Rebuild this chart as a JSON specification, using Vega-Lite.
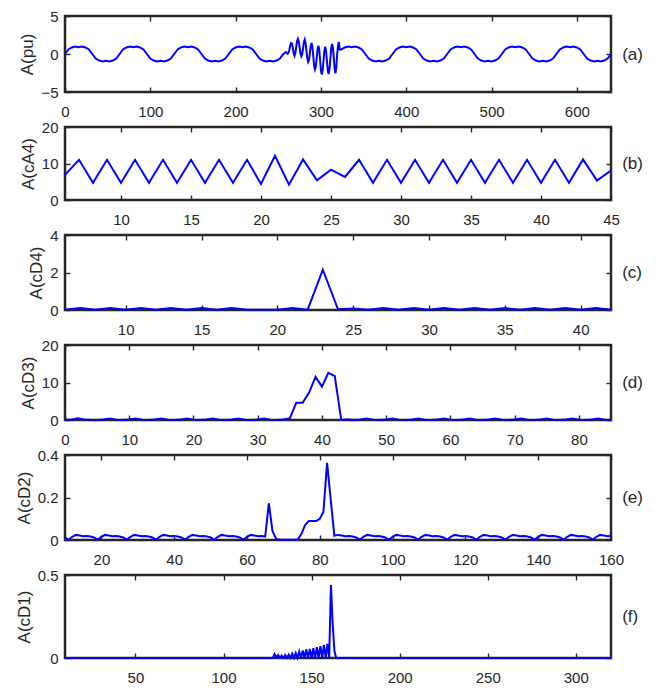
{
"$schema": "https://vega.github.io/schema/vega-lite/v6.json",
"padding": {"left": 13, "top": 7, "right": 5, "bottom": 2},
"background": "white",
"bounds": "flush",
"spacing": 35,
"config": {
  "view": {"stroke": "#262626", "strokeWidth": 2.5},
  "axis": {"domain": false, "grid": false, "tickSize": -5, "tickColor": "#262626", "tickWidth": 1.4,
    "labelFont": "Liberation Sans, Arial, sans-serif", "labelFontSize": 15, "labelColor": "#262626",
    "titleFont": "Liberation Sans, Arial, sans-serif", "titleFontSize": 17, "titleFontWeight": "normal", "titleColor": "#262626",
    "labelFlush": false, "labelOverlap": false, "titlePadding": 4},
  "axisBottom": {"labelPadding": 17},
  "axisLeft": {"labelPadding": 12},
  "line": {"color": "#0000ff", "strokeWidth": 2}
},
"datasets": {
"a": [
{"x":0,"y":0},{"x":4,"y":0.597},{"x":8,"y":0.863},{"x":12,"y":0.997},{"x":16,"y":0.88},{"x":20,"y":0.997},{"x":24,"y":0.863},{"x":28,"y":0.597},{"x":32,"y":0},{"x":36,"y":-0.597},{"x":40,"y":-0.863},{"x":44,"y":-0.997},{"x":48,"y":-0.88},{"x":52,"y":-0.997},{"x":56,"y":-0.863},{"x":60,"y":-0.597},
{"x":64,"y":0},{"x":68,"y":0.597},{"x":72,"y":0.863},{"x":76,"y":0.997},{"x":80,"y":0.88},{"x":84,"y":0.997},{"x":88,"y":0.863},{"x":92,"y":0.597},{"x":96,"y":0},{"x":100,"y":-0.597},{"x":104,"y":-0.863},{"x":108,"y":-0.997},{"x":112,"y":-0.88},{"x":116,"y":-0.997},{"x":120,"y":-0.863},{"x":124,"y":-0.597},
{"x":128,"y":0},{"x":132,"y":0.597},{"x":136,"y":0.863},{"x":140,"y":0.997},{"x":144,"y":0.88},{"x":148,"y":0.997},{"x":152,"y":0.863},{"x":156,"y":0.597},{"x":160,"y":0},{"x":164,"y":-0.597},{"x":168,"y":-0.863},{"x":172,"y":-0.997},{"x":176,"y":-0.88},{"x":180,"y":-0.997},{"x":184,"y":-0.863},{"x":188,"y":-0.597},
{"x":192,"y":0},{"x":196,"y":0.597},{"x":200,"y":0.863},{"x":204,"y":0.997},{"x":208,"y":0.88},{"x":212,"y":0.997},{"x":216,"y":0.863},{"x":220,"y":0.597},{"x":224,"y":0},{"x":228,"y":-0.597},{"x":232,"y":-0.863},{"x":236,"y":-0.997},{"x":240,"y":-0.88},{"x":244,"y":-0.997},{"x":248,"y":-0.863},{"x":252,"y":-0.597},
{"x":256,"y":0},{"x":257,"y":0.09},{"x":258,"y":0.18},{"x":259,"y":0.26},{"x":260,"y":0.13},{"x":261,"y":0.02},{"x":262,"y":0.15},{"x":263,"y":0.57},{"x":264,"y":1.13},{"x":265,"y":1.45},{"x":266,"y":1.38},{"x":267,"y":0.79},{"x":268,"y":0.13},{"x":269,"y":-0.24},{"x":270,"y":0.11},{"x":271,"y":0.9},{"x":272,"y":1.68},{"x":273,"y":2.0},{"x":274,"y":1.66},{"x":275,"y":0.86},{"x":276,"y":0.05},{"x":277,"y":-0.31},{"x":278,"y":-0.03},{"x":279,"y":0.7},{"x":280,"y":1.56},{"x":281,"y":1.92},{"x":282,"y":1.45},{"x":283,"y":0.42},{"x":284,"y":-0.57},{"x":285,"y":-1.04},{"x":286,"y":-0.78},{"x":287,"y":0.09},{"x":288,"y":1.06},{"x":289,"y":1.46},{"x":290,"y":0.96},{"x":291,"y":-0.26},{"x":292,"y":-1.48},{"x":293,"y":-2.02},{"x":294,"y":-1.67},{"x":295,"y":-0.57},{"x":296,"y":0.6},{"x":297,"y":1.1},{"x":298,"y":0.56},{"x":299,"y":-0.79},{"x":300,"y":-2.14},{"x":301,"y":-2.71},{"x":302,"y":-2.19},{"x":303,"y":-0.9},{"x":304,"y":0.41},{"x":305,"y":0.95},{"x":306,"y":0.43},{"x":307,"y":-0.86},{"x":308,"y":-2.14},{"x":309,"y":-2.64},{"x":310,"y":-2.06},{"x":311,"y":-0.7},{"x":312,"y":0.71},{"x":313,"y":1.33},{"x":314,"y":0.91},{"x":315,"y":-0.42},{"x":316,"y":-1.9},{"x":317,"y":-2.56},{"x":318,"y":-1.73},{"x":319,"y":-0.09},{"x":320,"y":1.06},{"x":321,"y":1.59},{"x":322,"y":0.6},
{"x":324,"y":0.597},{"x":328,"y":0.863},{"x":332,"y":0.997},{"x":336,"y":0.88},{"x":340,"y":0.997},{"x":344,"y":0.863},{"x":348,"y":0.597},{"x":352,"y":0},{"x":356,"y":-0.597},{"x":360,"y":-0.863},{"x":364,"y":-0.997},{"x":368,"y":-0.88},{"x":372,"y":-0.997},{"x":376,"y":-0.863},{"x":380,"y":-0.597},
{"x":384,"y":0},{"x":388,"y":0.597},{"x":392,"y":0.863},{"x":396,"y":0.997},{"x":400,"y":0.88},{"x":404,"y":0.997},{"x":408,"y":0.863},{"x":412,"y":0.597},{"x":416,"y":0},{"x":420,"y":-0.597},{"x":424,"y":-0.863},{"x":428,"y":-0.997},{"x":432,"y":-0.88},{"x":436,"y":-0.997},{"x":440,"y":-0.863},{"x":444,"y":-0.597},
{"x":448,"y":0},{"x":452,"y":0.597},{"x":456,"y":0.863},{"x":460,"y":0.997},{"x":464,"y":0.88},{"x":468,"y":0.997},{"x":472,"y":0.863},{"x":476,"y":0.597},{"x":480,"y":0},{"x":484,"y":-0.597},{"x":488,"y":-0.863},{"x":492,"y":-0.997},{"x":496,"y":-0.88},{"x":500,"y":-0.997},{"x":504,"y":-0.863},{"x":508,"y":-0.597},
{"x":512,"y":0},{"x":516,"y":0.597},{"x":520,"y":0.863},{"x":524,"y":0.997},{"x":528,"y":0.88},{"x":532,"y":0.997},{"x":536,"y":0.863},{"x":540,"y":0.597},{"x":544,"y":0},{"x":548,"y":-0.597},{"x":552,"y":-0.863},{"x":556,"y":-0.997},{"x":560,"y":-0.88},{"x":564,"y":-0.997},{"x":568,"y":-0.863},{"x":572,"y":-0.597},
{"x":576,"y":0},{"x":580,"y":0.597},{"x":584,"y":0.863},{"x":588,"y":0.997},{"x":592,"y":0.88},{"x":596,"y":0.997},{"x":600,"y":0.863},{"x":604,"y":0.597},{"x":608,"y":0},{"x":612,"y":-0.597},{"x":616,"y":-0.863},{"x":620,"y":-0.997},{"x":624,"y":-0.88},{"x":628,"y":-0.997},{"x":632,"y":-0.863},{"x":636,"y":-0.597},{"x":640,"y":0}
],
"b": [
{"x":6,"y":6.9},{"x":7,"y":11},{"x":8,"y":4.7},{"x":9,"y":11},{"x":10,"y":4.7},{"x":11,"y":11},{"x":12,"y":4.7},{"x":13,"y":11},{"x":14,"y":4.7},{"x":15,"y":11},{"x":16,"y":4.7},{"x":17,"y":11},{"x":18,"y":4.7},{"x":19,"y":11},{"x":20,"y":4.4},{"x":21,"y":12.1},{"x":22,"y":4.2},{"x":23,"y":11.1},{"x":24,"y":5.4},{"x":25,"y":8.3},{"x":26,"y":6.3},{"x":27,"y":11},{"x":28,"y":4.7},{"x":29,"y":11},{"x":30,"y":4.7},{"x":31,"y":11},{"x":32,"y":4.7},{"x":33,"y":11},{"x":34,"y":4.7},{"x":35,"y":11},{"x":36,"y":4.7},{"x":37,"y":11},{"x":38,"y":4.7},{"x":39,"y":11},{"x":40,"y":4.7},{"x":41,"y":11},{"x":42,"y":4.7},{"x":43,"y":11.1},{"x":44,"y":5.3},{"x":45,"y":8.1}
],
"c": [
{"x":6,"y":0.02},{"x":7,"y":0.1},{"x":8,"y":0.01},{"x":9,"y":0.1},{"x":10,"y":0.01},{"x":11,"y":0.1},{"x":12,"y":0.01},{"x":13,"y":0.1},{"x":14,"y":0.01},{"x":15,"y":0.1},{"x":16,"y":0.01},{"x":17,"y":0.1},{"x":18,"y":0.01},{"x":19,"y":0.01},{"x":20,"y":0.01},{"x":21,"y":0.1},{"x":22,"y":0.02},{"x":23,"y":2.15},{"x":24,"y":0.04},{"x":25,"y":0.08},{"x":26,"y":0.01},{"x":27,"y":0.1},{"x":28,"y":0.01},{"x":29,"y":0.1},{"x":30,"y":0.01},{"x":31,"y":0.1},{"x":32,"y":0.01},{"x":33,"y":0.1},{"x":34,"y":0.01},{"x":35,"y":0.1},{"x":36,"y":0.01},{"x":37,"y":0.1},{"x":38,"y":0.01},{"x":39,"y":0.1},{"x":40,"y":0.01},{"x":41,"y":0.1},{"x":42,"y":0.01}
],
"d": [
{"x":0,"y":0.1},{"x":1,"y":0.05},{"x":2,"y":0.45},{"x":3,"y":0.15},{"x":4,"y":0.05},{"x":5,"y":0.03},{"x":6,"y":0.12},{"x":7,"y":0.4},{"x":8,"y":0.1},{"x":9,"y":0.03},{"x":10,"y":0.12},{"x":11,"y":0.4},{"x":12,"y":0.1},{"x":13,"y":0.03},{"x":14,"y":0.12},{"x":15,"y":0.4},{"x":16,"y":0.1},{"x":17,"y":0.03},{"x":18,"y":0.12},{"x":19,"y":0.4},{"x":20,"y":0.1},{"x":21,"y":0.03},{"x":22,"y":0.12},{"x":23,"y":0.4},{"x":24,"y":0.1},{"x":25,"y":0.03},{"x":26,"y":0.12},{"x":27,"y":0.4},{"x":28,"y":0.1},{"x":29,"y":0.03},{"x":30,"y":0.12},{"x":31,"y":0.4},{"x":32,"y":0.1},{"x":33,"y":0.03},{"x":34,"y":0.12},{"x":35,"y":0.45},{"x":36,"y":4.6},{"x":37,"y":4.6},{"x":38,"y":7.3},{"x":39,"y":11.5},{"x":40,"y":8.9},{"x":41,"y":12.6},{"x":42,"y":11.7},{"x":43,"y":0.05},{"x":44,"y":0.1},{"x":45,"y":0.03},{"x":46,"y":0.12},{"x":47,"y":0.4},{"x":48,"y":0.1},{"x":49,"y":0.03},{"x":50,"y":0.12},{"x":51,"y":0.4},{"x":52,"y":0.1},{"x":53,"y":0.03},{"x":54,"y":0.12},{"x":55,"y":0.4},{"x":56,"y":0.1},{"x":57,"y":0.03},{"x":58,"y":0.12},{"x":59,"y":0.4},{"x":60,"y":0.1},{"x":61,"y":0.03},{"x":62,"y":0.12},{"x":63,"y":0.4},{"x":64,"y":0.1},{"x":65,"y":0.03},{"x":66,"y":0.12},{"x":67,"y":0.4},{"x":68,"y":0.1},{"x":69,"y":0.03},{"x":70,"y":0.12},{"x":71,"y":0.4},{"x":72,"y":0.1},{"x":73,"y":0.03},{"x":74,"y":0.12},{"x":75,"y":0.4},{"x":76,"y":0.1},{"x":77,"y":0.03},{"x":78,"y":0.12},{"x":79,"y":0.4},{"x":80,"y":0.1},{"x":81,"y":0.03},{"x":82,"y":0.12},{"x":83,"y":0.4},{"x":84,"y":0.1},{"x":85,"y":0.03}
],
"e": [
{"x":10,"y":0.012},{"x":11,"y":0.002},{"x":12,"y":0.015},{"x":13,"y":0.024},{"x":14,"y":0.021},{"x":15,"y":0.018},{"x":16,"y":0.019},{"x":17,"y":0.016},{"x":18,"y":0.012},{"x":19,"y":0.002},{"x":20,"y":0.015},{"x":21,"y":0.024},{"x":22,"y":0.021},{"x":23,"y":0.018},{"x":24,"y":0.019},{"x":25,"y":0.016},{"x":26,"y":0.012},{"x":27,"y":0.002},{"x":28,"y":0.015},{"x":29,"y":0.024},{"x":30,"y":0.021},{"x":31,"y":0.018},{"x":32,"y":0.019},{"x":33,"y":0.016},{"x":34,"y":0.012},{"x":35,"y":0.002},{"x":36,"y":0.015},{"x":37,"y":0.024},{"x":38,"y":0.021},{"x":39,"y":0.018},{"x":40,"y":0.019},{"x":41,"y":0.016},{"x":42,"y":0.012},{"x":43,"y":0.002},{"x":44,"y":0.015},{"x":45,"y":0.024},{"x":46,"y":0.021},{"x":47,"y":0.018},{"x":48,"y":0.019},{"x":49,"y":0.016},{"x":50,"y":0.012},{"x":51,"y":0.002},{"x":52,"y":0.015},{"x":53,"y":0.024},{"x":54,"y":0.021},{"x":55,"y":0.018},{"x":56,"y":0.019},{"x":57,"y":0.016},{"x":58,"y":0.012},{"x":59,"y":0.002},{"x":60,"y":0.015},{"x":61,"y":0.024},{"x":62,"y":0.021},{"x":63,"y":0.018},{"x":64,"y":0.019},{"x":65,"y":0.016},{"x":66,"y":0.173},{"x":67,"y":0.042},{"x":68,"y":0.005},{"x":69,"y":0.001},{"x":70,"y":0.001},{"x":71,"y":0.001},{"x":72,"y":0.001},{"x":73,"y":0.001},{"x":74,"y":0.003},{"x":75,"y":0.03},{"x":76,"y":0.072},{"x":77,"y":0.09},{"x":78,"y":0.09},{"x":79,"y":0.089},{"x":80,"y":0.1},{"x":81,"y":0.133},{"x":82,"y":0.363},{"x":83,"y":0.19},{"x":84,"y":0.02},{"x":85,"y":0.024},{"x":86,"y":0.021},{"x":87,"y":0.018},{"x":88,"y":0.019},{"x":89,"y":0.016},{"x":90,"y":0.012},{"x":91,"y":0.002},{"x":92,"y":0.015},{"x":93,"y":0.024},{"x":94,"y":0.021},{"x":95,"y":0.018},{"x":96,"y":0.019},{"x":97,"y":0.016},{"x":98,"y":0.012},{"x":99,"y":0.002},{"x":100,"y":0.015},{"x":101,"y":0.024},{"x":102,"y":0.021},{"x":103,"y":0.018},{"x":104,"y":0.019},{"x":105,"y":0.016},{"x":106,"y":0.012},{"x":107,"y":0.002},{"x":108,"y":0.015},{"x":109,"y":0.024},{"x":110,"y":0.021},{"x":111,"y":0.018},{"x":112,"y":0.019},{"x":113,"y":0.016},{"x":114,"y":0.012},{"x":115,"y":0.002},{"x":116,"y":0.015},{"x":117,"y":0.024},{"x":118,"y":0.021},{"x":119,"y":0.018},{"x":120,"y":0.019},{"x":121,"y":0.016},{"x":122,"y":0.012},{"x":123,"y":0.002},{"x":124,"y":0.015},{"x":125,"y":0.024},{"x":126,"y":0.021},{"x":127,"y":0.018},{"x":128,"y":0.019},{"x":129,"y":0.016},{"x":130,"y":0.012},{"x":131,"y":0.002},{"x":132,"y":0.015},{"x":133,"y":0.024},{"x":134,"y":0.021},{"x":135,"y":0.018},{"x":136,"y":0.019},{"x":137,"y":0.016},{"x":138,"y":0.012},{"x":139,"y":0.002},{"x":140,"y":0.015},{"x":141,"y":0.024},{"x":142,"y":0.021},{"x":143,"y":0.018},{"x":144,"y":0.019},{"x":145,"y":0.016},{"x":146,"y":0.012},{"x":147,"y":0.002},{"x":148,"y":0.015},{"x":149,"y":0.024},{"x":150,"y":0.021},{"x":151,"y":0.018},{"x":152,"y":0.019},{"x":153,"y":0.016},{"x":154,"y":0.012},{"x":155,"y":0.002},{"x":156,"y":0.015},{"x":157,"y":0.024},{"x":158,"y":0.021},{"x":159,"y":0.018},{"x":160,"y":0.019}
],
"f": [
{"x":10,"y":0},{"x":128,"y":0},{"x":129,"y":0.024},{"x":130,"y":0.004},{"x":131,"y":0.018},{"x":132,"y":0.002},{"x":133,"y":0.014},{"x":134,"y":0},{"x":135,"y":0.018},{"x":136,"y":0},{"x":137,"y":0.02},{"x":138,"y":0},{"x":139,"y":0.026},{"x":140,"y":0},{"x":141,"y":0.03},{"x":142,"y":0},{"x":143,"y":0.039},{"x":144,"y":0},{"x":145,"y":0.045},{"x":146,"y":0},{"x":147,"y":0.051},{"x":148,"y":0},{"x":149,"y":0.055},{"x":150,"y":0},{"x":151,"y":0.059},{"x":152,"y":0},{"x":153,"y":0.065},{"x":154,"y":0},{"x":155,"y":0.071},{"x":156,"y":0},{"x":157,"y":0.079},{"x":158,"y":0},{"x":159,"y":0.085},{"x":160,"y":0},{"x":161,"y":0.44},{"x":162,"y":0.2},{"x":163,"y":0.04},{"x":164,"y":0},{"x":320,"y":0}
]
},
"vconcat": [
{"width": 546, "height": 76, "data": {"name": "a"},
 "layer": [
  {"mark": {"type": "line"}, "encoding": {
    "x": {"field": "x", "type": "quantitative", "scale": {"domain": [0, 640], "nice": false, "zero": false}, "axis": {"orient": "bottom", "values": [0,100,200,300,400,500,600], "title": null}},
    "y": {"field": "y", "type": "quantitative", "scale": {"domain": [-5, 5], "nice": false, "zero": false}, "axis": {"orient": "left", "values": [-5,0,5], "title": "A(pu)"}}}},
  {"mark": {"type": "line", "opacity": 0}, "encoding": {
    "x": {"field": "x", "type": "quantitative", "scale": {"domain": [0, 640], "nice": false, "zero": false}, "axis": {"orient": "top", "values": [0,100,200,300,400,500,600], "labels": false, "title": null}},
    "y": {"field": "y", "type": "quantitative", "scale": {"domain": [-5, 5], "nice": false, "zero": false}, "axis": {"orient": "right", "values": [-5,0,5], "labels": false, "title": "(a)", "titleAngle": 0, "titlePadding": 10, "titleAlign": "left", "titleBaseline": "middle"}}}}
 ],
 "resolve": {"axis": {"x": "independent", "y": "independent"}}},
{"width": 546, "height": 73, "data": {"name": "b"},
 "layer": [
  {"mark": {"type": "line"}, "encoding": {
    "x": {"field": "x", "type": "quantitative", "scale": {"domain": [6, 45], "nice": false, "zero": false}, "axis": {"orient": "bottom", "values": [10,15,20,25,30,35,40,45], "title": null}},
    "y": {"field": "y", "type": "quantitative", "scale": {"domain": [0, 20], "nice": false, "zero": false}, "axis": {"orient": "left", "values": [0,10,20], "title": "A(cA4)"}}}},
  {"mark": {"type": "line", "opacity": 0}, "encoding": {
    "x": {"field": "x", "type": "quantitative", "scale": {"domain": [6, 45], "nice": false, "zero": false}, "axis": {"orient": "top", "values": [10,15,20,25,30,35,40,45], "labels": false, "title": null}},
    "y": {"field": "y", "type": "quantitative", "scale": {"domain": [0, 20], "nice": false, "zero": false}, "axis": {"orient": "right", "values": [0,10,20], "labels": false, "title": "(b)", "titleAngle": 0, "titlePadding": 10, "titleAlign": "left", "titleBaseline": "middle"}}}}
 ],
 "resolve": {"axis": {"x": "independent", "y": "independent"}}},
{"width": 546, "height": 75, "data": {"name": "c"},
 "layer": [
  {"mark": {"type": "line"}, "encoding": {
    "x": {"field": "x", "type": "quantitative", "scale": {"domain": [6, 42], "nice": false, "zero": false}, "axis": {"orient": "bottom", "values": [10,15,20,25,30,35,40], "title": null}},
    "y": {"field": "y", "type": "quantitative", "scale": {"domain": [0, 4], "nice": false, "zero": false}, "axis": {"orient": "left", "values": [0,2,4], "title": "A(cD4)"}}}},
  {"mark": {"type": "line", "opacity": 0}, "encoding": {
    "x": {"field": "x", "type": "quantitative", "scale": {"domain": [6, 42], "nice": false, "zero": false}, "axis": {"orient": "top", "values": [10,15,20,25,30,35,40], "labels": false, "title": null}},
    "y": {"field": "y", "type": "quantitative", "scale": {"domain": [0, 4], "nice": false, "zero": false}, "axis": {"orient": "right", "values": [0,2,4], "labels": false, "title": "(c)", "titleAngle": 0, "titlePadding": 10, "titleAlign": "left", "titleBaseline": "middle"}}}}
 ],
 "resolve": {"axis": {"x": "independent", "y": "independent"}}},
{"width": 546, "height": 75, "data": {"name": "d"},
 "layer": [
  {"mark": {"type": "line"}, "encoding": {
    "x": {"field": "x", "type": "quantitative", "scale": {"domain": [0, 85], "nice": false, "zero": false}, "axis": {"orient": "bottom", "values": [0,10,20,30,40,50,60,70,80], "title": null}},
    "y": {"field": "y", "type": "quantitative", "scale": {"domain": [0, 20], "nice": false, "zero": false}, "axis": {"orient": "left", "values": [0,10,20], "title": "A(cD3)"}}}},
  {"mark": {"type": "line", "opacity": 0}, "encoding": {
    "x": {"field": "x", "type": "quantitative", "scale": {"domain": [0, 85], "nice": false, "zero": false}, "axis": {"orient": "top", "values": [0,10,20,30,40,50,60,70,80], "labels": false, "title": null}},
    "y": {"field": "y", "type": "quantitative", "scale": {"domain": [0, 20], "nice": false, "zero": false}, "axis": {"orient": "right", "values": [0,10,20], "labels": false, "title": "(d)", "titleAngle": 0, "titlePadding": 10, "titleAlign": "left", "titleBaseline": "middle"}}}}
 ],
 "resolve": {"axis": {"x": "independent", "y": "independent"}}},
{"width": 546, "height": 85, "data": {"name": "e"},
 "layer": [
  {"mark": {"type": "line"}, "encoding": {
    "x": {"field": "x", "type": "quantitative", "scale": {"domain": [10, 160], "nice": false, "zero": false}, "axis": {"orient": "bottom", "values": [20,40,60,80,100,120,140,160], "title": null}},
    "y": {"field": "y", "type": "quantitative", "scale": {"domain": [0, 0.4], "nice": false, "zero": false}, "axis": {"orient": "left", "values": [0,0.2,0.4], "title": "A(cD2)", "labelExpr": "datum.value == 0 ? '0' : datum.label"}}}},
  {"mark": {"type": "line", "opacity": 0}, "encoding": {
    "x": {"field": "x", "type": "quantitative", "scale": {"domain": [10, 160], "nice": false, "zero": false}, "axis": {"orient": "top", "values": [20,40,60,80,100,120,140,160], "labels": false, "title": null}},
    "y": {"field": "y", "type": "quantitative", "scale": {"domain": [0, 0.4], "nice": false, "zero": false}, "axis": {"orient": "right", "values": [0,0.2,0.4], "labels": false, "title": "(e)", "titleAngle": 0, "titlePadding": 10, "titleAlign": "left", "titleBaseline": "middle"}}}}
 ],
 "resolve": {"axis": {"x": "independent", "y": "independent"}}},
{"width": 546, "height": 83, "data": {"name": "f"},
 "layer": [
  {"mark": {"type": "line"}, "encoding": {
    "x": {"field": "x", "type": "quantitative", "scale": {"domain": [10, 320], "nice": false, "zero": false}, "axis": {"orient": "bottom", "values": [50,100,150,200,250,300], "title": null}},
    "y": {"field": "y", "type": "quantitative", "scale": {"domain": [0, 0.5], "nice": false, "zero": false}, "axis": {"orient": "left", "values": [0,0.5], "title": "A(cD1)", "labelExpr": "datum.value == 0 ? '0' : datum.label"}}}},
  {"mark": {"type": "line", "opacity": 0}, "encoding": {
    "x": {"field": "x", "type": "quantitative", "scale": {"domain": [10, 320], "nice": false, "zero": false}, "axis": {"orient": "top", "values": [50,100,150,200,250,300], "labels": false, "title": null}},
    "y": {"field": "y", "type": "quantitative", "scale": {"domain": [0, 0.5], "nice": false, "zero": false}, "axis": {"orient": "right", "values": [0,0.5], "labels": false, "title": "(f)", "titleAngle": 0, "titlePadding": 10, "titleAlign": "left", "titleBaseline": "middle"}}}}
 ],
 "resolve": {"axis": {"x": "independent", "y": "independent"}}}
]
}
